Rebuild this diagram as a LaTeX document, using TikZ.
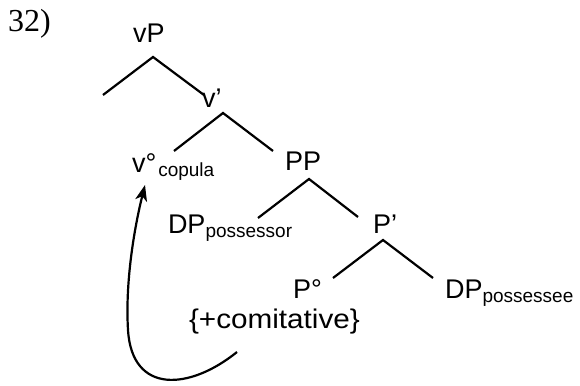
\documentclass[tikz,border=0pt]{standalone}
\usepackage{fontspec}
\setmainfont{Liberation Sans}
\newfontfamily\exnumfont{Liberation Serif}
\usetikzlibrary{arrows.meta}
% lowered, smaller label for subscripted categories
\newcommand\labsub[1]{\raisebox{-4pt}{\fontsize{19}{20}\selectfont #1}}
\begin{document}
\begin{tikzpicture}[x=1pt,y=-1pt,
  lab/.style={anchor=base west,inner sep=0pt,outer sep=0pt,font=\fontsize{27}{30}\selectfont},
  branch/.style={line width=2.2pt},
  move/.style={line width=2.2pt,-{Stealth[length=16pt,width=12pt,inset=4.5pt]}}]
\useasboundingbox (0,0) rectangle (580,385);

% example number
\node[anchor=base west,inner sep=0pt,font=\exnumfont\fontsize{32}{34}\selectfont] (exnum) at (8,32) {32)};

% tree labels
\node[lab] (vP)      at (133,43)  {vP};
\node[lab] (vbar)    at (202,107) {v’};
\node[lab] (vcop)    at (132,172) {v°\hspace{2pt}\labsub{copula}};
\node[lab] (PP)      at (285,170) {PP};
\node[lab] (DPposs)  at (168,233) {DP\labsub{possessor}};
\node[lab] (Pbar)    at (373,233) {P’};
\node[lab] (Pzero)   at (293,298) {P°};
\node[lab] (DPpossee) at (445,298) {DP\labsub{possessee}};
\node[lab] (com)     at (189,328) {\scalebox{1.1}[1]{\{+comitative\}}};

% empty specifier of vP
\coordinate (vPspec) at (103,95);

% branches
\draw[branch] (vPspec) -- ([shift={(20,14)}]vP.base west) -- ([shift={(2,-12)}]vbar.base west);
\draw[branch] ([shift={(42,-21)}]vcop.base west) -- ([shift={(21,6)}]vbar.base west) -- ([shift={(-12,-19)}]PP.base west);
\draw[branch] ([shift={(90,-15)}]DPposs.base west) -- ([shift={(24,9)}]PP.base west) -- ([shift={(-15,-16)}]Pbar.base west);
\draw[branch] ([shift={(40,-20)}]Pzero.base west) -- ([shift={(10,7)}]Pbar.base west) -- ([shift={(-12,-20)}]DPpossee.base west);

% head movement of P° to v°
\draw[move] ([shift={(48,24)}]com.base west)
  .. controls (190,390) and (132,395) .. (128,330)
  .. controls (125,280) and (135,225) .. ([shift={(13,13)}]vcop.base west);
\end{tikzpicture}
\end{document}
